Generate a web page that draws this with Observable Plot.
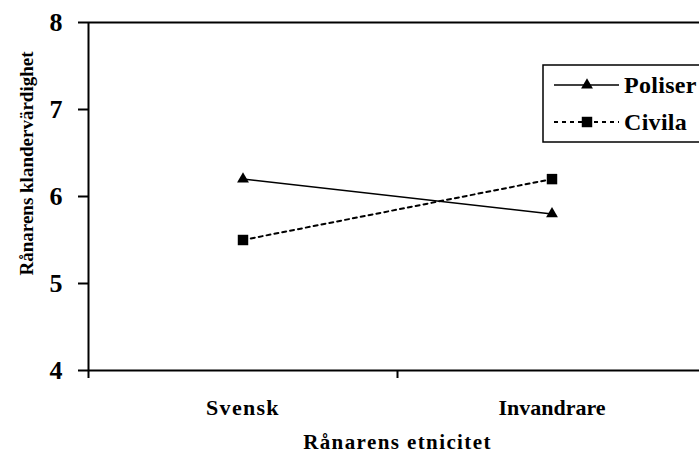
<!DOCTYPE html>
<html>
<head>
<meta charset="utf-8">
<script src="https://cdn.jsdelivr.net/npm/d3@7"></script>
<script src="https://cdn.jsdelivr.net/npm/@observablehq/plot@0.6"></script>
<style>
  html, body { margin: 0; padding: 0; background: white; overflow: hidden; }
  #wrap { position: relative; width: 699px; height: 456px; }
  #legend { position: absolute; left: 0; top: 0; pointer-events: none; }
</style>
</head>
<body>
<div id="wrap"></div>
<script>
const categories = ["Svensk", "Invandrare"];
const seriesNames = ["Poliser", "Civila"];
const poliser = [6.2, 5.8];
const civila = [5.5, 6.2];
const yTicks = [4, 5, 6, 7, 8];
const xTitle = "Rånarens etnicitet";
const yTitle = "Rånarens klandervärdighet";

const idx = d3.range(categories.length);
const boundaries = d3.range(categories.length + 1).map(i => i - 0.5);
const polData = idx.map(i => ({i, v: poliser[i]}));
const civData = idx.map(i => ({i, v: civila[i]}));

const font = "'Liberation Serif', 'Times New Roman', serif";

const chart = Plot.plot({
  width: 699,
  height: 456,
  marginLeft: 88,
  marginTop: 22,
  marginBottom: 86,
  marginRight: 0,
  x: {domain: [boundaries[0], boundaries[boundaries.length - 1]], range: [88, 706]},
  y: {domain: [yTicks[0], yTicks[yTicks.length - 1]]},
  style: {fontFamily: font, fontWeight: "bold", color: "black", background: "white"},
  marks: [
    Plot.ruleY([yTicks[yTicks.length - 1]], {stroke: "black", strokeWidth: 2}),
    Plot.ruleY([yTicks[0]], {stroke: "black", strokeWidth: 2}),
    Plot.ruleX([boundaries[0]], {stroke: "black", strokeWidth: 2}),
    Plot.axisY({ticks: yTicks, tickSize: 10, tickPadding: 16, fontSize: 26, strokeWidth: 2, label: null, tickFormat: d => String(d)}),
    Plot.axisX({ticks: boundaries, tickSize: 8, tickFormat: () => "", strokeWidth: 2, label: null}),
    Plot.axisX({ticks: idx, tickSize: 0, tickPadding: 29, fontSize: 22, tickFormat: i => categories[i], label: null}),
    Plot.line(polData, {x: "i", y: "v", stroke: "black", strokeWidth: 1.5}),
    Plot.line(civData, {x: "i", y: "v", stroke: "black", strokeWidth: 2, strokeDasharray: "4,4"}),
    Plot.dot(polData, {x: "i", y: "v", symbol: "triangle", r: 4.4, fill: "black", stroke: "none"}),
    Plot.dot(civData, {x: "i", y: "v", symbol: "square", r: 5.9, fill: "black", stroke: "none"}),
    Plot.text([xTitle], {frameAnchor: "bottom", textAnchor: "middle", dx: 3.5, dy: 72, lineAnchor: "middle", fontSize: 21, fontWeight: "bold", fill: "black"}),
    Plot.text([yTitle], {frameAnchor: "left", textAnchor: "middle", dx: -62, dy: -33, rotate: -90, lineAnchor: "middle", fontSize: 19, fontWeight: "bold", fill: "black"})
  ]
});
document.getElementById("wrap").appendChild(chart);

// Extra letter spacing to mimic the original's loose typesetting
d3.select(chart).selectAll("text").each(function() {
  const t = this.textContent;
  if (t === xTitle) d3.select(this).style("letter-spacing", "1.4px");
  if (t === categories[0]) d3.select(this).style("letter-spacing", "1.3px");
});

// Legend overlay
const svg = d3.select("#wrap").append("svg")
  .attr("id", "legend").attr("width", 699).attr("height", 456);
svg.append("rect").attr("x", 543).attr("y", 65).attr("width", 200).attr("height", 77)
  .attr("fill", "white").attr("stroke", "black").attr("stroke-width", 1.5);
const rows = [
  {name: seriesNames[0], y: 85, dash: null, sw: 1.5, sym: d3.symbolTriangle, size: Math.PI * 4.4 * 4.4},
  {name: seriesNames[1], y: 122, dash: "4,4", sw: 2, sym: d3.symbolSquare, size: Math.PI * 5.9 * 5.9}
];
rows.forEach(r => {
  svg.append("line").attr("x1", 554).attr("x2", 619).attr("y1", r.y).attr("y2", r.y)
    .attr("stroke", "black").attr("stroke-width", r.sw).attr("stroke-dasharray", r.dash);
  svg.append("path").attr("d", d3.symbol(r.sym, r.size)())
    .attr("transform", `translate(587,${r.y})`).attr("fill", "black");
  svg.append("text").attr("x", 624).attr("y", r.y + 8)
    .attr("font-family", font).attr("font-weight", "bold").attr("font-size", 24)
    .style("letter-spacing", "0.3px")
    .attr("fill", "black").text(r.name);
});
</script>
</body>
</html>
